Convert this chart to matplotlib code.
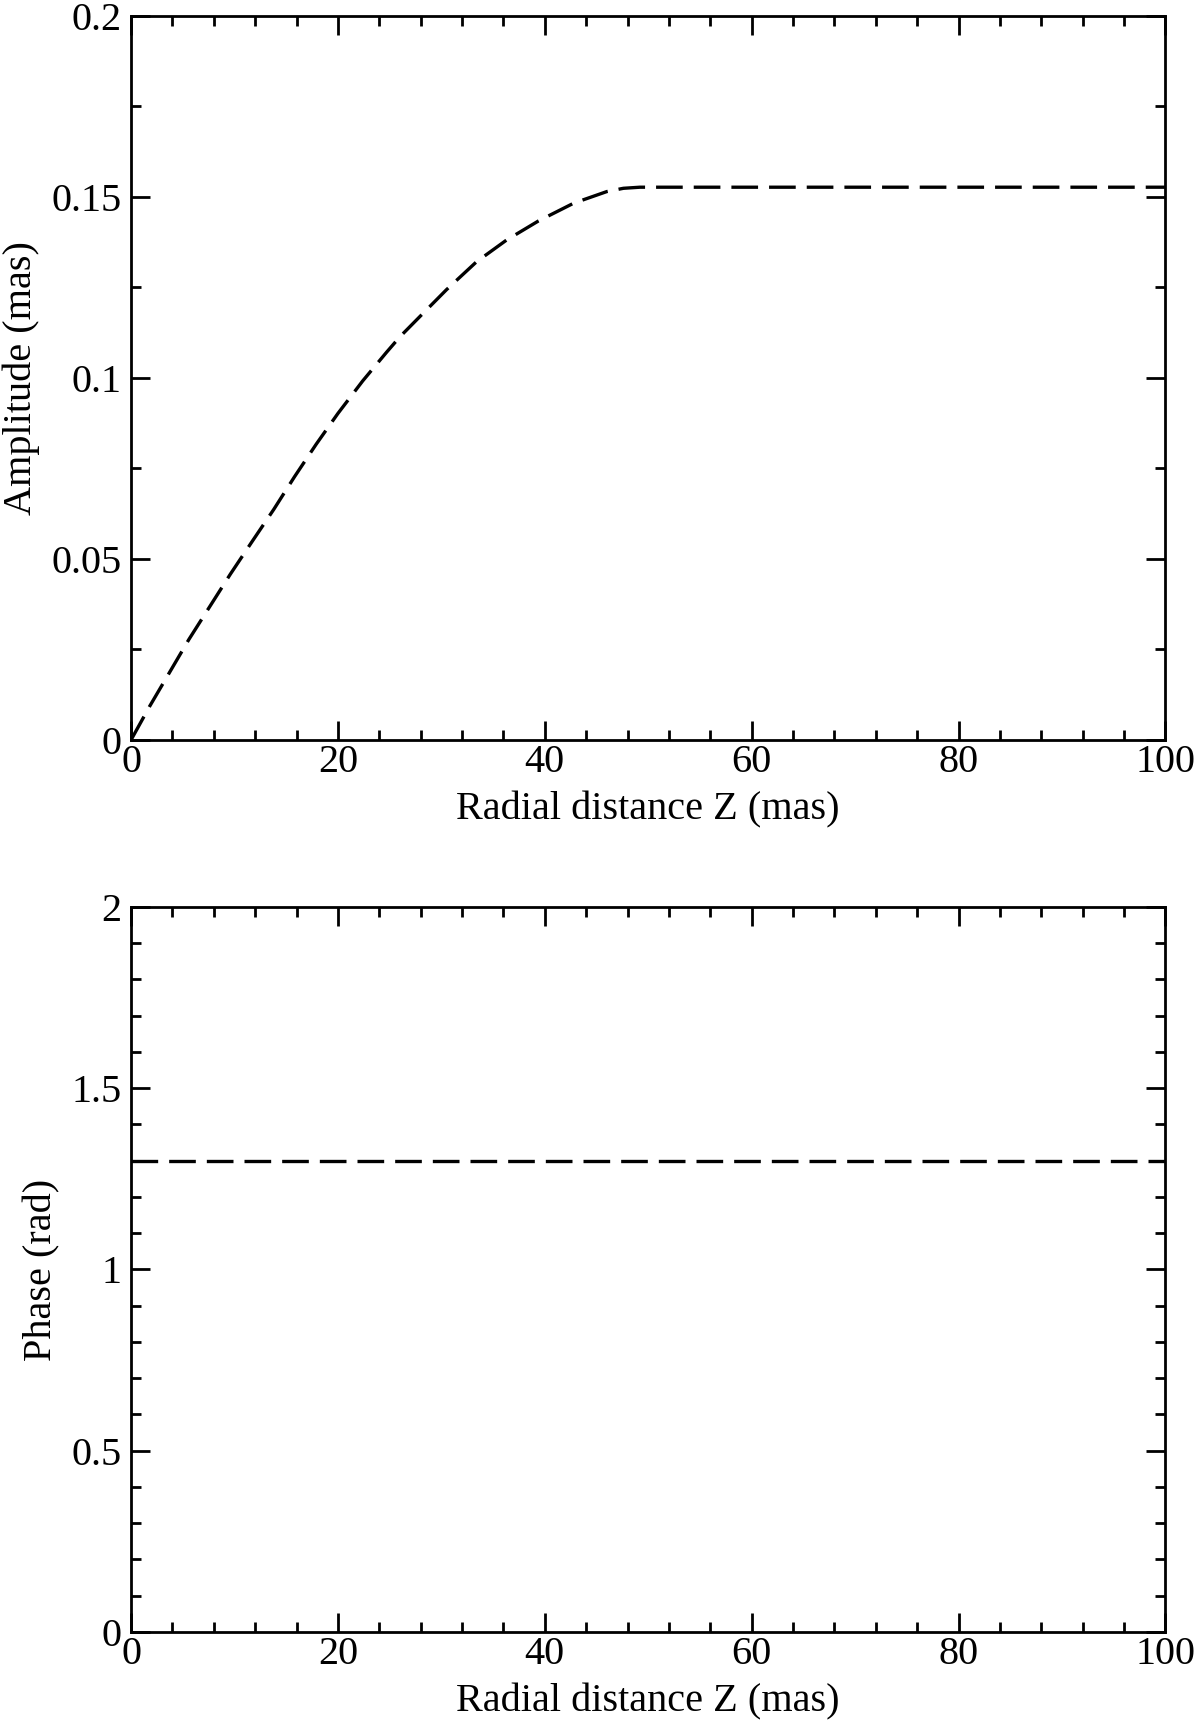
import matplotlib
matplotlib.use("Agg")
import matplotlib.pyplot as plt
from matplotlib.ticker import MultipleLocator, FormatStrFormatter

# values
z_amp = [0, 1.8, 5.6, 9.6, 11.7, 13.8, 15.8, 17.9, 20.0, 22.4, 24.7, 26.0,
         27.9, 30.5, 33.4, 36.3, 39.4, 42.8, 46.0, 47.6, 49.2, 60, 70, 80,
         90, 100]
amplitude = [0, 0.0093, 0.0278, 0.0458, 0.0548, 0.0637, 0.0727, 0.0817,
             0.0902, 0.0992, 0.1071, 0.1114, 0.1169, 0.1244, 0.1321, 0.1381,
             0.1434, 0.1483, 0.1515, 0.1524, 0.1527, 0.1527, 0.1527, 0.1527,
             0.1527, 0.1527]
z_phase = [0, 100]
phase = [1.3, 1.3]

plt.rcParams["font.family"] = ["Liberation Serif", "DejaVu Serif"]
plt.rcParams["font.size"] = 29
plt.rcParams["axes.linewidth"] = 2.0

fig = plt.figure(figsize=(12, 17.2), dpi=100)
ax1 = fig.add_axes([0.1092, 0.5698, 0.862, 0.4209])
ax2 = fig.add_axes([0.1092, 0.0512, 0.862, 0.4215])


def style(ax, ymax, ymajor, yminor, ylabel):
    ax.set_xlim(0, 100)
    ax.set_ylim(0, ymax)
    ax.xaxis.set_major_locator(MultipleLocator(20))
    ax.xaxis.set_minor_locator(MultipleLocator(4))
    ax.yaxis.set_major_locator(MultipleLocator(ymajor))
    ax.yaxis.set_minor_locator(MultipleLocator(yminor))
    ax.xaxis.set_major_formatter(FormatStrFormatter("%g"))
    ax.yaxis.set_major_formatter(FormatStrFormatter("%g"))
    ax.tick_params(which="both", direction="in", top=True, right=True,
                   width=2.0, labelsize=29)
    ax.tick_params(which="major", length=14)
    ax.tick_params(which="minor", length=7.5)
    ax.tick_params(axis="y", pad=7)
    ax.tick_params(axis="x", pad=3)
    ax.set_xlabel("Radial distance Z (mas)", fontsize=29, labelpad=7)
    ax.set_ylabel(ylabel, fontsize=29, labelpad=8)


ax1.plot(z_amp, amplitude, color="black", lw=2.4, dashes=(8, 3.3))
style(ax1, 0.2, 0.05, 0.025, "Amplitude (mas)")

ax2.plot(z_phase, phase, color="black", lw=2.4, dashes=(8, 3.3))
style(ax2, 2, 0.5, 0.1, "Phase (rad)")

fig.savefig("out.png", dpi=100)
